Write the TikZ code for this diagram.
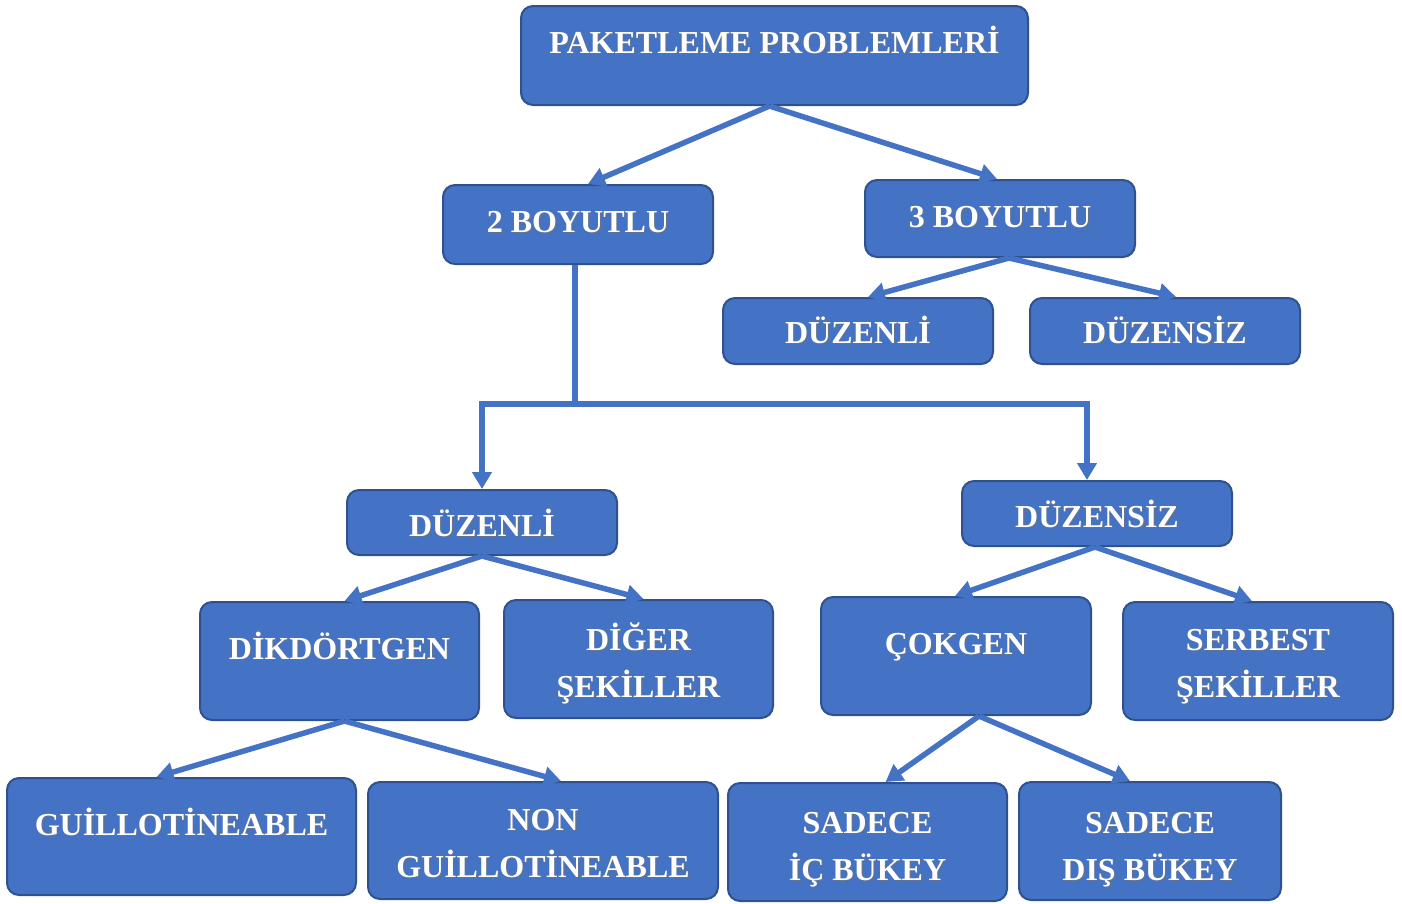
\documentclass[tikz,border=0pt]{standalone}
\usepackage{fontspec}
\setmainfont{Liberation Serif}
\usetikzlibrary{arrows.meta}

\definecolor{boxblue}{HTML}{4472C4}
\definecolor{boxedge}{HTML}{2F528F}
\definecolor{shadowc}{HTML}{1F3560}

% white label with a soft dark drop shadow
\newcommand\shd[1]{\makebox[0pt][l]{\hspace{1.3pt}\raisebox{-1.3pt}{\textcolor{shadowc!70}{#1}}}#1}

\tikzset{
  box/.style={rectangle, rounded corners=12pt, fill=boxblue, draw=boxedge,
    line width=2pt, text=white, inner xsep=0pt,
    font=\fontsize{32}{47}\selectfont\bfseries, align=center},
  sized/.style 2 args={minimum width=#1, minimum height=#2},
  % distance from the top edge to the (last) baseline, and from there to the bottom edge
  oneline/.style 2 args={text height=#1, text depth=#2, inner ysep=0pt},
  link/.style={draw=boxblue, line width=5.5pt},
  arrow/.style={link, -{Triangle[length=17pt,width=19pt]}}
}

\begin{document}
\begin{tikzpicture}[x=1pt, y=-1pt]
\useasboundingbox (0,0) rectangle (1402,903);

% root
\node[box, sized={507pt}{99pt}, oneline={47pt}{52pt}] (pk) at (774.5,55.5) {\shd{PAKETLEME PROBLEMLERİ}};

% dimension level
\node[box, sized={270pt}{79pt}, oneline={47pt}{31pt}] (b2) at (578,224.5) {\shd{2 BOYUTLU}};
\node[box, sized={270pt}{77pt}, oneline={47pt}{30pt}] (b3) at (1000,218.5) {\shd{3 BOYUTLU}};

% 3D subtypes
\node[box, sized={270pt}{66pt}, oneline={45pt}{20pt}] (td) at (858,331) {\shd{DÜZENLİ}};
\node[box, sized={270pt}{66pt}, oneline={45pt}{20pt}] (ts) at (1165,331) {\shd{DÜZENSİZ}};

% 2D subtypes
\node[box, sized={270pt}{65pt}, oneline={46pt}{19pt}] (md) at (482,522.5) {\shd{DÜZENLİ}};
\node[box, sized={270pt}{65pt}, oneline={46pt}{18pt}] (ms) at (1097,513.5) {\shd{DÜZENSİZ}};

% shapes
\node[box, sized={279pt}{118pt}, oneline={57pt}{61pt}] (dk) at (339.5,661) {\shd{DİKDÖRTGEN}};
\node[box, sized={269pt}{118pt}, oneline={97pt}{21pt}] (dg) at (638.5,659) {\shd{DİĞER}\\\shd{ŞEKİLLER}};
\node[box, sized={270pt}{118pt}, oneline={57pt}{61pt}] (ck) at (956,656) {\shd{ÇOKGEN}};
\node[box, sized={270pt}{118pt}, oneline={95pt}{23pt}] (sb) at (1258,661) {\shd{SERBEST}\\\shd{ŞEKİLLER}};

% leaves
\node[box, sized={349pt}{117pt}, oneline={57pt}{60pt}] (gu) at (181.5,836.5) {\shd{GUİLLOTİNEABLE}};
\node[box, sized={350pt}{117pt}, oneline={95pt}{22pt}] (ng) at (543,840.5) {\shd{NON}\\\shd{GUİLLOTİNEABLE}};
\node[box, sized={279pt}{118pt}, oneline={97pt}{21pt}] (ic) at (867.5,842) {\shd{SADECE}\\\shd{İÇ BÜKEY}};
\node[box, sized={262pt}{118pt}, oneline={98pt}{20pt}] (di) at (1150,841) {\shd{SADECE}\\\shd{DIŞ BÜKEY}};

% connectors
\draw[arrow] ([xshift=-5pt]pk.south) -- ([xshift=10pt]b2.north);
\draw[arrow] ([xshift=-5pt]pk.south) -- ([xshift=-3pt]b3.north);

\draw[arrow] ([xshift=9pt]b3.south) -- ([xshift=10pt]td.north);
\draw[arrow] ([xshift=9pt]b3.south) -- ([xshift=11pt]ts.north);

\coordinate (split) at (575,404);
\draw[link] ([xshift=-3pt]b2.south) -- (split);
\draw[arrow] (split) -| (md.north);
\draw[arrow] (split) -| ([xshift=-10pt]ms.north);

\draw[arrow] (md.south) -- ([xshift=5pt]dk.north);
\draw[arrow] (md.south) -- ([xshift=5pt]dg.north);

\draw[arrow] ([xshift=-2pt]ms.south) -- ([xshift=-1pt]ck.north);
\draw[arrow] ([xshift=-2pt]ms.south) -- ([xshift=-6pt]sb.north);

\draw[arrow] ([xshift=5pt]dk.south) -- ([xshift=-25pt]gu.north);
\draw[arrow] ([xshift=5pt]dk.south) -- ([xshift=18pt]ng.north);

\draw[arrow] ([xshift=23pt]ck.south) -- ([xshift=18pt]ic.north);
\draw[arrow] ([xshift=23pt]ck.south) -- ([xshift=-20pt]di.north);
\end{tikzpicture}
\end{document}
